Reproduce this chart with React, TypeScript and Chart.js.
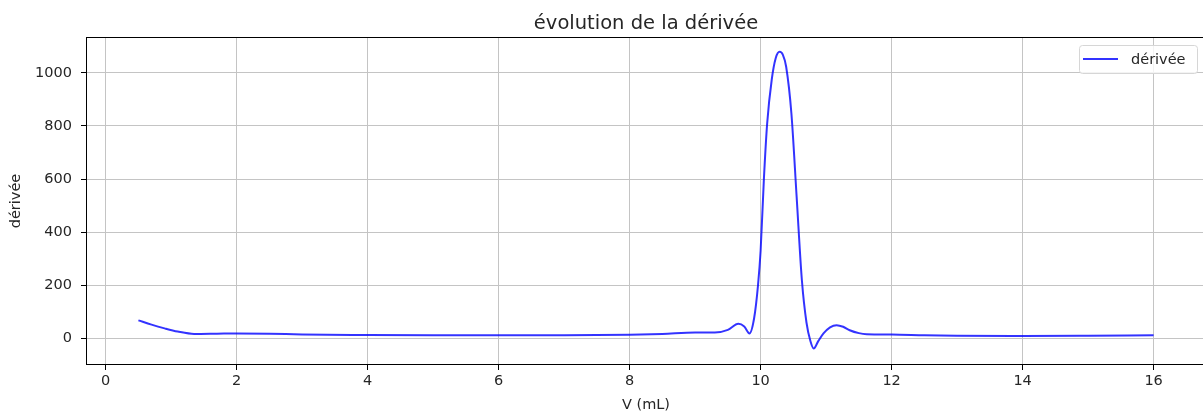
import React, { useEffect, useRef } from "react";
import { Chart, registerables } from "chart.js";

Chart.register(...registerables);

const volumes = [
  0.5, 0.7, 0.9, 1.1, 1.35, 1.7, 2.0, 2.5, 3, 4, 5, 6, 7, 8, 8.5, 9.0, 9.3, 9.5,
  9.66, 9.75, 9.83, 9.9, 9.96, 10.0, 10.05, 10.1, 10.17, 10.23, 10.29, 10.34,
  10.39, 10.47, 10.55, 10.63, 10.7, 10.76, 10.81, 10.88, 10.96, 11.06, 11.16,
  11.26, 11.36, 11.5, 11.62, 12, 12.5, 13, 14, 15, 16,
];
const derivee = [
  68, 52, 38, 26, 17, 18, 19, 18, 15, 13, 12, 12, 12, 14, 17, 22, 22, 32,
  55, 45, 19, 75, 200, 330, 600, 810, 975, 1055, 1079, 1068,
  1023, 847, 533, 219, 60, -10, -38, -10, 19, 42, 50,
  44, 31, 20, 16, 15, 12, 10, 9, 10, 12,
];
const xTicks = [0, 2, 4, 6, 8, 10, 12, 14, 16];
const yTicks = [0, 200, 400, 600, 800, 1000];

const chartTitle = "évolution de la dérivée";
const seriesLabel = "dérivée";
const lineColor = "rgba(0,0,255,0.8)";
const FONT = "'DejaVu Sans', sans-serif";
const TXT = "#262626";

export default function App() {
  const ref = useRef<HTMLCanvasElement>(null);
  useEffect(() => {
    document.body.style.margin = "0";
    const frame = {
      id: "frame",
      afterDatasetsDraw(chart: any) {
        const { ctx, chartArea: a } = chart;
        ctx.save();
        ctx.strokeStyle = "#000";
        ctx.lineWidth = 1;
        ctx.strokeRect(a.left + 0.5, a.top + 0.5, a.right - a.left - 1, a.bottom - a.top - 1);
        // title centred over the axes
        ctx.fillStyle = TXT;
        ctx.font = `19.5px ${FONT}`;
        ctx.textAlign = "center";
        ctx.textBaseline = "alphabetic";
        ctx.fillText(chartTitle, (a.left + a.right) / 2, 29);
        // legend
        const w = 118, h = 28;
        const x0 = a.right - 127, y0 = a.top + 8;
        ctx.fillStyle = "rgba(255,255,255,0.8)";
        ctx.strokeStyle = "#d6d6d6";
        ctx.beginPath();
        (ctx as any).roundRect(x0 + 0.5, y0 + 0.5, w, h, 3);
        ctx.fill();
        ctx.stroke();
        ctx.strokeStyle = lineColor;
        ctx.lineWidth = 2;
        ctx.beginPath();
        ctx.moveTo(x0 + 4, y0 + h / 2);
        ctx.lineTo(x0 + 39, y0 + h / 2);
        ctx.stroke();
        ctx.fillStyle = TXT;
        ctx.font = `14.5px ${FONT}`;
        ctx.textAlign = "left";
        ctx.textBaseline = "middle";
        ctx.fillText(chart.data.datasets[0].label, x0 + 52, y0 + h / 2 + 1);
        ctx.restore();
      },
    };
    const chart = new Chart(ref.current!, {
      type: "line",
      data: {
        datasets: [
          {
            label: seriesLabel,
            data: volumes.map((v, i) => ({ x: v, y: derivee[i] })),
            borderColor: lineColor,
            borderWidth: 2,
            pointRadius: 0,
            fill: false,
            cubicInterpolationMode: "monotone",
          },
        ],
      },
      options: {
        animation: false,
        responsive: false,
        layout: { padding: { left: 0, right: 6, top: 37, bottom: 0 } },
        plugins: {
          legend: { display: false },
          tooltip: { enabled: false },
          title: { display: false },
        },
        scales: {
          x: {
            type: "linear",
            min: -0.3,
            max: 16.8,
            afterBuildTicks: (s: any) => {
              s.ticks = xTicks.map((v) => ({ value: v }));
            },
            afterFit: (s: any) => {
              s.height = 49;
            },
            grid: { color: "#c4c4c4", lineWidth: 1, tickLength: 5, tickColor: "#000", drawTicks: true },
            border: { display: false },
            ticks: {
              color: TXT,
              font: { family: FONT, size: 14.5 },
              padding: 3,
              maxRotation: 0,
              callback: (v: any) => String(v),
            },
            title: {
              display: true,
              text: "V (mL)",
              color: TXT,
              font: { family: FONT, size: 14.5 },
              padding: { top: 0, bottom: 0 },
            },
          },
          y: {
            type: "linear",
            min: -100,
            max: 1135,
            afterBuildTicks: (s: any) => {
              s.ticks = yTicks.map((v) => ({ value: v }));
            },
            afterFit: (s: any) => {
              s.width = 86;
            },
            grid: { color: "#c4c4c4", lineWidth: 1, tickLength: 5, tickColor: "#000", drawTicks: true },
            border: { display: false },
            ticks: {
              color: TXT,
              font: { family: FONT, size: 14.5 },
              padding: 9,
              callback: (v: any) => String(v),
            },
            title: {
              display: true,
              text: "dérivée",
              color: TXT,
              font: { family: FONT, size: 14.5 },
              padding: { top: 8, bottom: 0 },
            },
          },
        },
      },
      plugins: [frame],
    });
    return () => chart.destroy();
  }, []);
  return (
    <div style={{ width: 1203, height: 414, overflow: "hidden" }}>
      <canvas ref={ref} width={1212} height={414} style={{ display: "block" }} />
    </div>
  );
}
